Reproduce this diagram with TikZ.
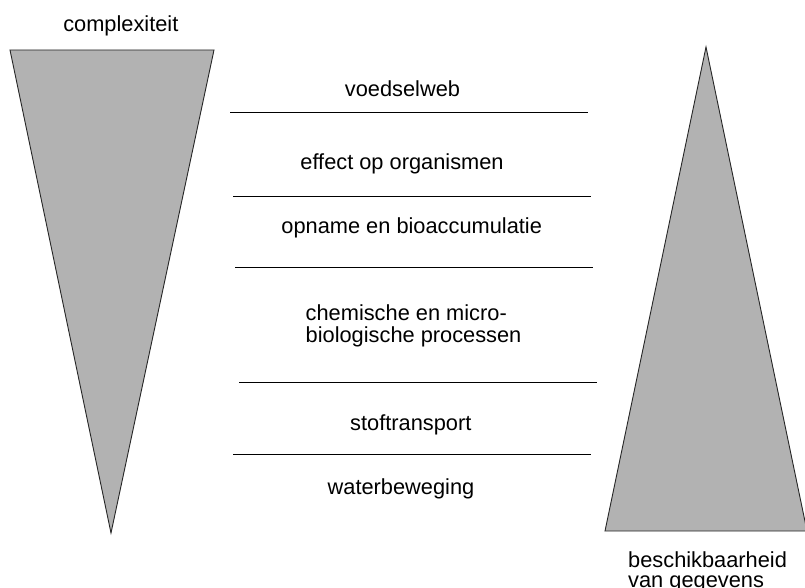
\documentclass[tikz,border=0pt]{standalone}
\usepackage{fontspec}
\setmainfont{Liberation Sans}
\definecolor{wedgegray}{RGB}{178,178,178}
\begin{document}
\begin{tikzpicture}[x=1pt,y=-1pt,
  wedge/.style={draw=black!85,fill=wedgegray,line width=0.9pt,line join=miter},
  sep/.style={draw=black,line width=0.9pt},
  lbl/.style={anchor=base,inner sep=0pt,font=\fontsize{21.8}{22}\selectfont},
  lbll/.style={anchor=base west,inner sep=0pt,align=left,font=\fontsize{21.8}{22}\selectfont}]
  \useasboundingbox (0,0) rectangle (805,588);
  \begin{scope}
    \clip (0,0) rectangle (805,588);
    % two opposing wedges
    \path[wedge] (10,50) -- (214,50) -- (111,533) -- cycle;
    \path[wedge] (706,47) -- (807,531) -- (605,531) -- cycle;
  \end{scope}
  % layer labels (multi-line labels are placed by their last baseline)
  \node[lbl] (cx) at (120.8,31.5) {complexiteit};
  \node[lbl] (l1) at (402.5,96.5) {voedselweb};
  \node[lbl] (l2) at (402,170) {effect op organismen};
  \node[lbl] (l3) at (411.7,233) {opname en bioaccumulatie};
  \node[lbll] (l4) at (305.5,342) {chemische en micro-\\[0pt]biologische processen};
  \node[lbl] (l5) at (410.8,430) {stoftransport};
  \node[lbl] (l6) at (401,494) {waterbeweging};
  \node[lbll] (bg) at (628,587) {beschikbaarheid\\[-2pt]van gegevens};
  % separators between the layers
  \draw[sep] (230,112) -- (588,112);
  \draw[sep] (233,196) -- (591,196);
  \draw[sep] (235,267) -- (593,267);
  \draw[sep] (239,382) -- (597,382);
  \draw[sep] (233,454) -- (591,454);
\end{tikzpicture}
\end{document}
